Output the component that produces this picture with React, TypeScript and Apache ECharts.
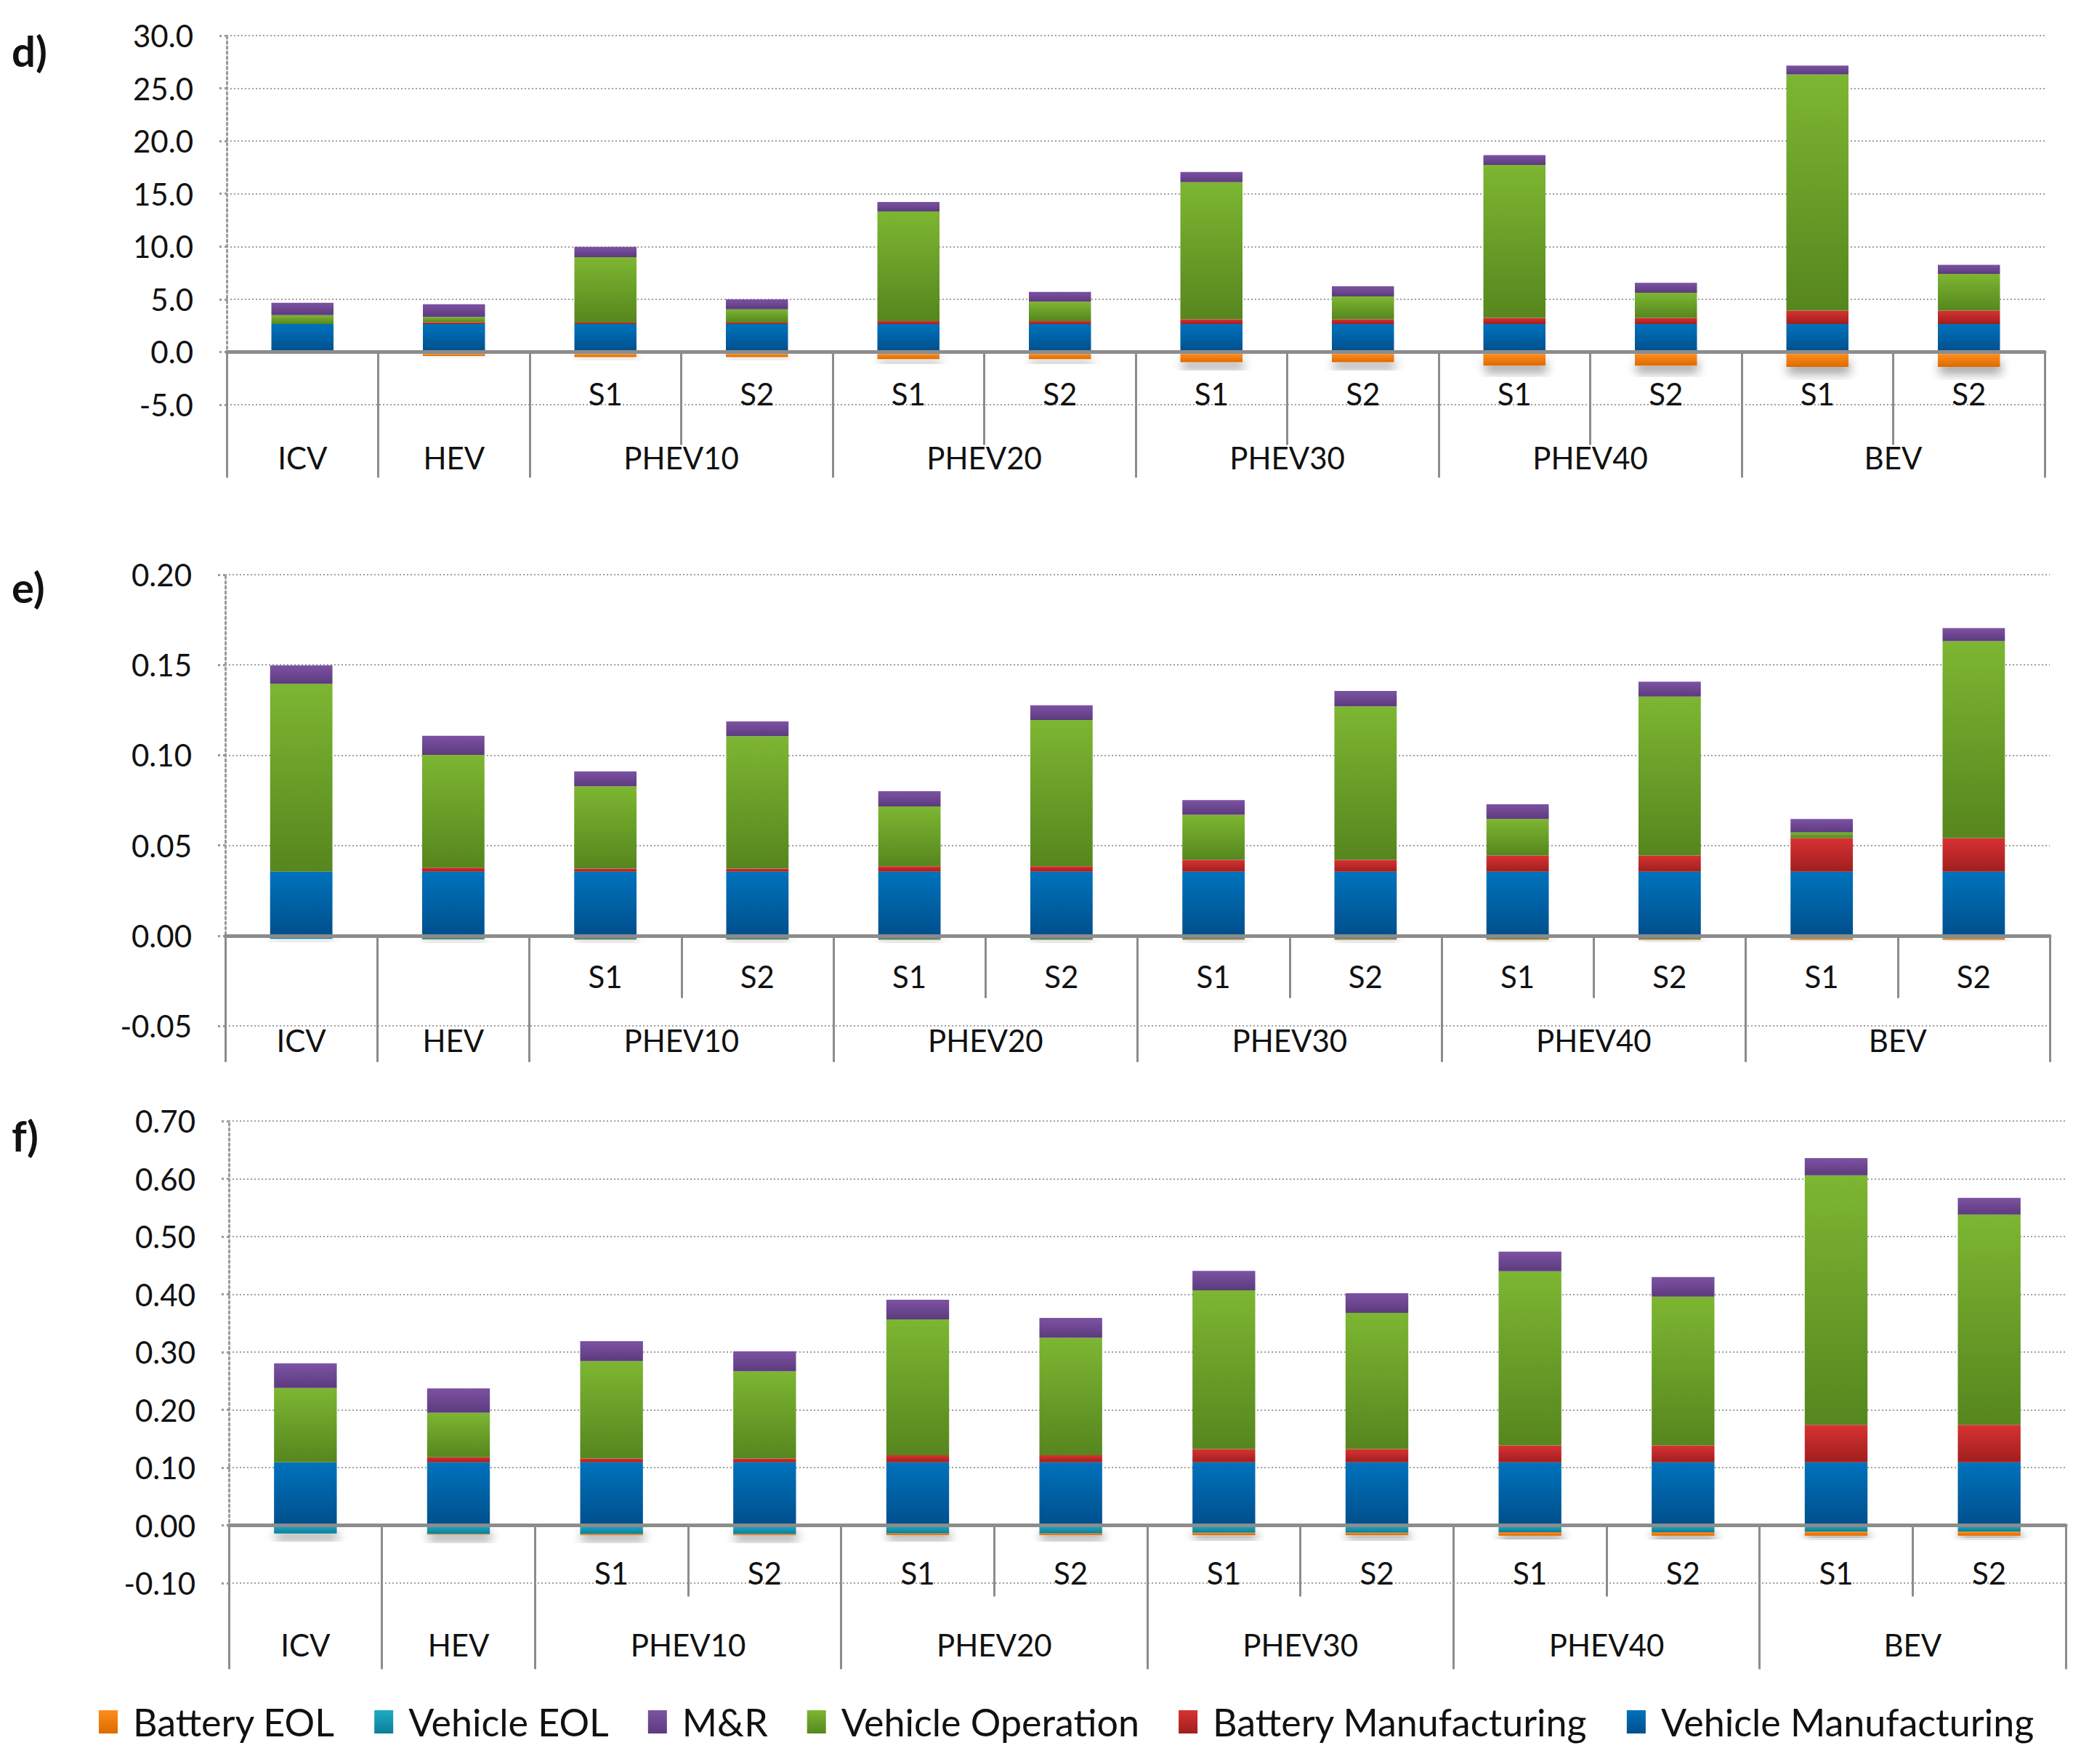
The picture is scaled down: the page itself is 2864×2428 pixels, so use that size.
import React, { useEffect, useRef } from 'react';
import * as echarts from 'echarts';

// ---- categories ----
const barLabels = ['', '', 'S1', 'S2', 'S1', 'S2', 'S1', 'S2', 'S1', 'S2', 'S1', 'S2'];
const groupNames = ['ICV', 'HEV', 'PHEV10', 'PHEV20', 'PHEV30', 'PHEV40', 'BEV'];
const groupSpans = [1, 1, 2, 2, 2, 2, 2];
const legendOrder = ['Battery EOL', 'Vehicle EOL', 'M&R', 'Vehicle Operation', 'Battery Manufacturing', 'Vehicle Manufacturing'];

// ---- panel d ----
const dVehicleManufacturing = [2.64, 2.64, 2.64, 2.64, 2.64, 2.64, 2.64, 2.64, 2.64, 2.64, 2.64, 2.64];
const dBatteryManufacturing = [0, 0.18, 0.15, 0.15, 0.28, 0.28, 0.46, 0.46, 0.6, 0.6, 1.28, 1.28];
const dVehicleOperation = [0.85, 0.5, 6.2, 1.26, 10.4, 1.84, 13.0, 2.16, 14.5, 2.37, 22.4, 3.48];
const dMR = [1.17, 1.2, 0.97, 0.94, 0.9, 0.94, 0.97, 0.97, 0.93, 0.95, 0.83, 0.87];
const dVehicleEOL = [-0.15, -0.2, -0.2, -0.2, -0.2, -0.2, -0.2, -0.2, -0.2, -0.2, -0.2, -0.2];
const dBatteryEOL = [0, -0.19, -0.28, -0.28, -0.47, -0.47, -0.77, -0.77, -1.09, -1.09, -1.22, -1.22];

// ---- panel e ----
const eVehicleManufacturing = [0.0354, 0.0354, 0.0354, 0.0354, 0.0354, 0.0354, 0.0354, 0.0354, 0.0354, 0.0354, 0.0354, 0.0354];
const eBatteryManufacturing = [0, 0.0023, 0.0018, 0.0018, 0.0031, 0.0031, 0.0066, 0.0066, 0.009, 0.009, 0.0187, 0.0187];
const eVehicleOperation = [0.1041, 0.0625, 0.0455, 0.0733, 0.0331, 0.081, 0.0249, 0.085, 0.0202, 0.0881, 0.0031, 0.1091];
const eMR = [0.0103, 0.0105, 0.0083, 0.0082, 0.0084, 0.0081, 0.0082, 0.0086, 0.0082, 0.0082, 0.0074, 0.0072];
const eVehicleEOL = [-0.0018, -0.002, -0.002, -0.002, -0.002, -0.002, -0.0019, -0.0019, -0.0018, -0.0018, -0.0016, -0.0016];
const eBatteryEOL = [0, -0.0002, -0.0003, -0.0003, -0.0004, -0.0004, -0.0005, -0.0005, -0.0006, -0.0006, -0.0007, -0.0007];

// ---- panel f ----
const fVehicleManufacturing = [0.109, 0.109, 0.109, 0.109, 0.109, 0.109, 0.109, 0.109, 0.109, 0.109, 0.109, 0.109];
const fBatteryManufacturing = [0, 0.009, 0.0066, 0.0066, 0.0125, 0.0125, 0.023, 0.023, 0.0295, 0.0295, 0.065, 0.065];
const fVehicleOperation = [0.1287, 0.077, 0.1687, 0.151, 0.235, 0.2035, 0.275, 0.236, 0.3015, 0.2575, 0.432, 0.364];
const fMR = [0.0427, 0.042, 0.0347, 0.0348, 0.0342, 0.034, 0.0336, 0.0338, 0.034, 0.034, 0.03, 0.029];
const fVehicleEOL = [-0.014, -0.015, -0.015, -0.015, -0.014, -0.014, -0.013, -0.013, -0.012, -0.012, -0.011, -0.011];
const fBatteryEOL = [0, -0.001, -0.002, -0.002, -0.003, -0.003, -0.004, -0.004, -0.006, -0.006, -0.007, -0.007];

// ---- y axis ticks ----
const dYMin = -5, dYMax = 30, dYStep = 5, dYDecimals = 1;
const eYMin = -0.05, eYMax = 0.2, eYStep = 0.05, eYDecimals = 2;
const fYMin = -0.1, fYMax = 0.7, fYStep = 0.1, fYDecimals = 2;

const panelTitles = ['d)', 'e)', 'f)'];

const FONT = 'Lato, "Open Sans", sans-serif';
const LABEL_SIZE = 42;

const colors: Record<string, [string, string]> = {
  'Vehicle Manufacturing': ['#0072BC', '#004F8C'],
  'Battery Manufacturing': ['#D83232', '#A01E1E'],
  'Vehicle Operation': ['#7DB632', '#56861E'],
  'M&R': ['#7D52A3', '#5C3B7E'],
  'Vehicle EOL': ['#1EAAC6', '#0D7F98'],
  'Battery EOL': ['#FF8C1C', '#DD6A00'],
};

function grad(name: string) {
  const [a, b] = colors[name];
  return new echarts.graphic.LinearGradient(0, 0, 0, 1, [
    { offset: 0, color: a },
    { offset: 1, color: b },
  ]);
}

export default function App() {
  const ref = useRef<HTMLDivElement>(null);
  useEffect(() => {
    if (!ref.current) return;
    const chart = echarts.init(ref.current, undefined, { renderer: 'svg' });

    // half-slot axis for the group labels
    const halfData: string[] = new Array(25).fill('');
    const bounds = new Set<number>();
    let p = 0;
    groupNames.forEach((g, i) => {
      bounds.add(2 * p);
      halfData[2 * p + groupSpans[i]] = g;
      p += groupSpans[i];
    });
    bounds.add(2 * p);

    // label margins are measured from the grid's bottom edge (label top)
    const panels = [
      {
        data: [dVehicleManufacturing, dBatteryManufacturing, dVehicleOperation, dMR, dVehicleEOL, dBatteryEOL],
        min: dYMin, max: dYMax, step: dYStep, dec: dYDecimals,
        grid: { left: 312, right: 50, top: 49, height: 508 },
        shortTick: 128, longTick: 173, sMargin: -36, gMargin: 52, titleY: 69,
      },
      {
        data: [eVehicleManufacturing, eBatteryManufacturing, eVehicleOperation, eMR, eVehicleEOL, eBatteryEOL],
        min: eYMin, max: eYMax, step: eYStep, dec: eYDecimals,
        grid: { left: 310, right: 43, top: 791, height: 621 },
        shortTick: 86, longTick: 174, sMargin: -89, gMargin: -1, titleY: 807,
      },
      {
        data: [fVehicleManufacturing, fBatteryManufacturing, fVehicleOperation, fMR, fVehicleEOL, fBatteryEOL],
        min: fYMin, max: fYMax, step: fYStep, dec: fYDecimals,
        grid: { left: 315, right: 21, top: 1543, height: 636 },
        shortTick: 98, longTick: 198, sMargin: -35, gMargin: 64, titleY: 1562,
      },
    ];
    const names = ['Vehicle Manufacturing', 'Battery Manufacturing', 'Vehicle Operation', 'M&R', 'Vehicle EOL', 'Battery EOL'];

    const grids: any[] = [];
    const xAxes: any[] = [];
    const yAxes: any[] = [];
    const series: any[] = [];
    const graphics: any[] = [];

    panels.forEach((pn, i) => {
      grids.push({ ...pn.grid, containLabel: false, outerBoundsMode: 'none' });
      yAxes.push({
        type: 'value',
        gridIndex: i,
        min: pn.min,
        max: pn.max,
        interval: pn.step,
        axisLine: { show: true, lineStyle: { color: '#9a9a9a', width: 3, type: [3, 4] } },
        axisTick: { show: true, length: 14, lineStyle: { color: '#9a9a9a', width: 3, type: [3, 4] } },
        splitLine: { show: true, lineStyle: { color: '#a0a0a0', width: 2, type: [2, 3] } },
        axisLabel: {
          margin: 46,
          fontSize: LABEL_SIZE,
          fontFamily: FONT,
          color: '#111',
          formatter: (v: number) => v.toFixed(pn.dec),
        },
      });
      xAxes.push({
        type: 'category',
        gridIndex: i,
        data: barLabels,
        position: 'bottom',
        axisLine: { show: true, onZero: true, lineStyle: { color: '#8c8c8c', width: 5 } },
        axisTick: { show: true, length: pn.shortTick, lineStyle: { color: '#8c8c8c', width: 3 } },
        axisLabel: { margin: pn.sMargin, fontSize: LABEL_SIZE, fontFamily: FONT, color: '#111', interval: 0 },
        splitLine: { show: false },
        z: 5,
      });
      xAxes.push({
        type: 'category',
        gridIndex: i,
        data: halfData,
        boundaryGap: false,
        position: 'bottom',
        axisLine: { show: false, onZero: true, onZeroAxisIndex: i },
        axisTick: {
          show: true,
          length: pn.longTick,
          interval: (idx: number) => bounds.has(idx),
          lineStyle: { color: '#8c8c8c', width: 3 },
        },
        axisLabel: { margin: pn.gMargin, fontSize: LABEL_SIZE, fontFamily: FONT, color: '#111', interval: 0 },
        splitLine: { show: false },
        z: 5,
      });
      names.forEach((nm, k) => {
        const neg = k >= 4;
        series.push({
          name: nm,
          type: 'bar',
          stack: 'p' + i,
          xAxisIndex: 2 * i,
          yAxisIndex: i,
          barWidth: '41%',
          data: pn.data[k],
          itemStyle: neg
            ? { color: grad(nm), shadowColor: 'rgba(0,0,0,0.35)', shadowBlur: 14, shadowOffsetY: 10, shadowOffsetX: 2 }
            : { color: grad(nm) },
          emphasis: { disabled: true },
        });
      });
      graphics.push({
        type: 'text',
        x: 16,
        y: pn.titleY,
        style: {
          text: panelTitles[i],
          fontSize: 58,
          fontWeight: 'bold',
          fontFamily: FONT,
          fill: '#111',
          verticalAlign: 'middle',
        },
      });
    });

    chart.setOption({
      animation: false,
      backgroundColor: '#ffffff',
      grid: grids,
      xAxis: xAxes,
      yAxis: yAxes,
      series,
      graphic: graphics,
      legend: {
        data: legendOrder,
        left: 131,
        top: 2339,
        icon: 'rect',
        itemWidth: 26,
        itemHeight: 32,
        itemGap: 54,
        textStyle: { fontSize: 52, fontFamily: FONT, color: '#111', padding: [0, 0, 0, 16] },
        selectedMode: false,
      },
    });
    return () => chart.dispose();
  }, []);
  return (
    <div
      ref={ref}
      style={{ position: 'absolute', left: 0, top: 0, width: 2864, height: 2428, background: '#fff' }}
    />
  );
}
